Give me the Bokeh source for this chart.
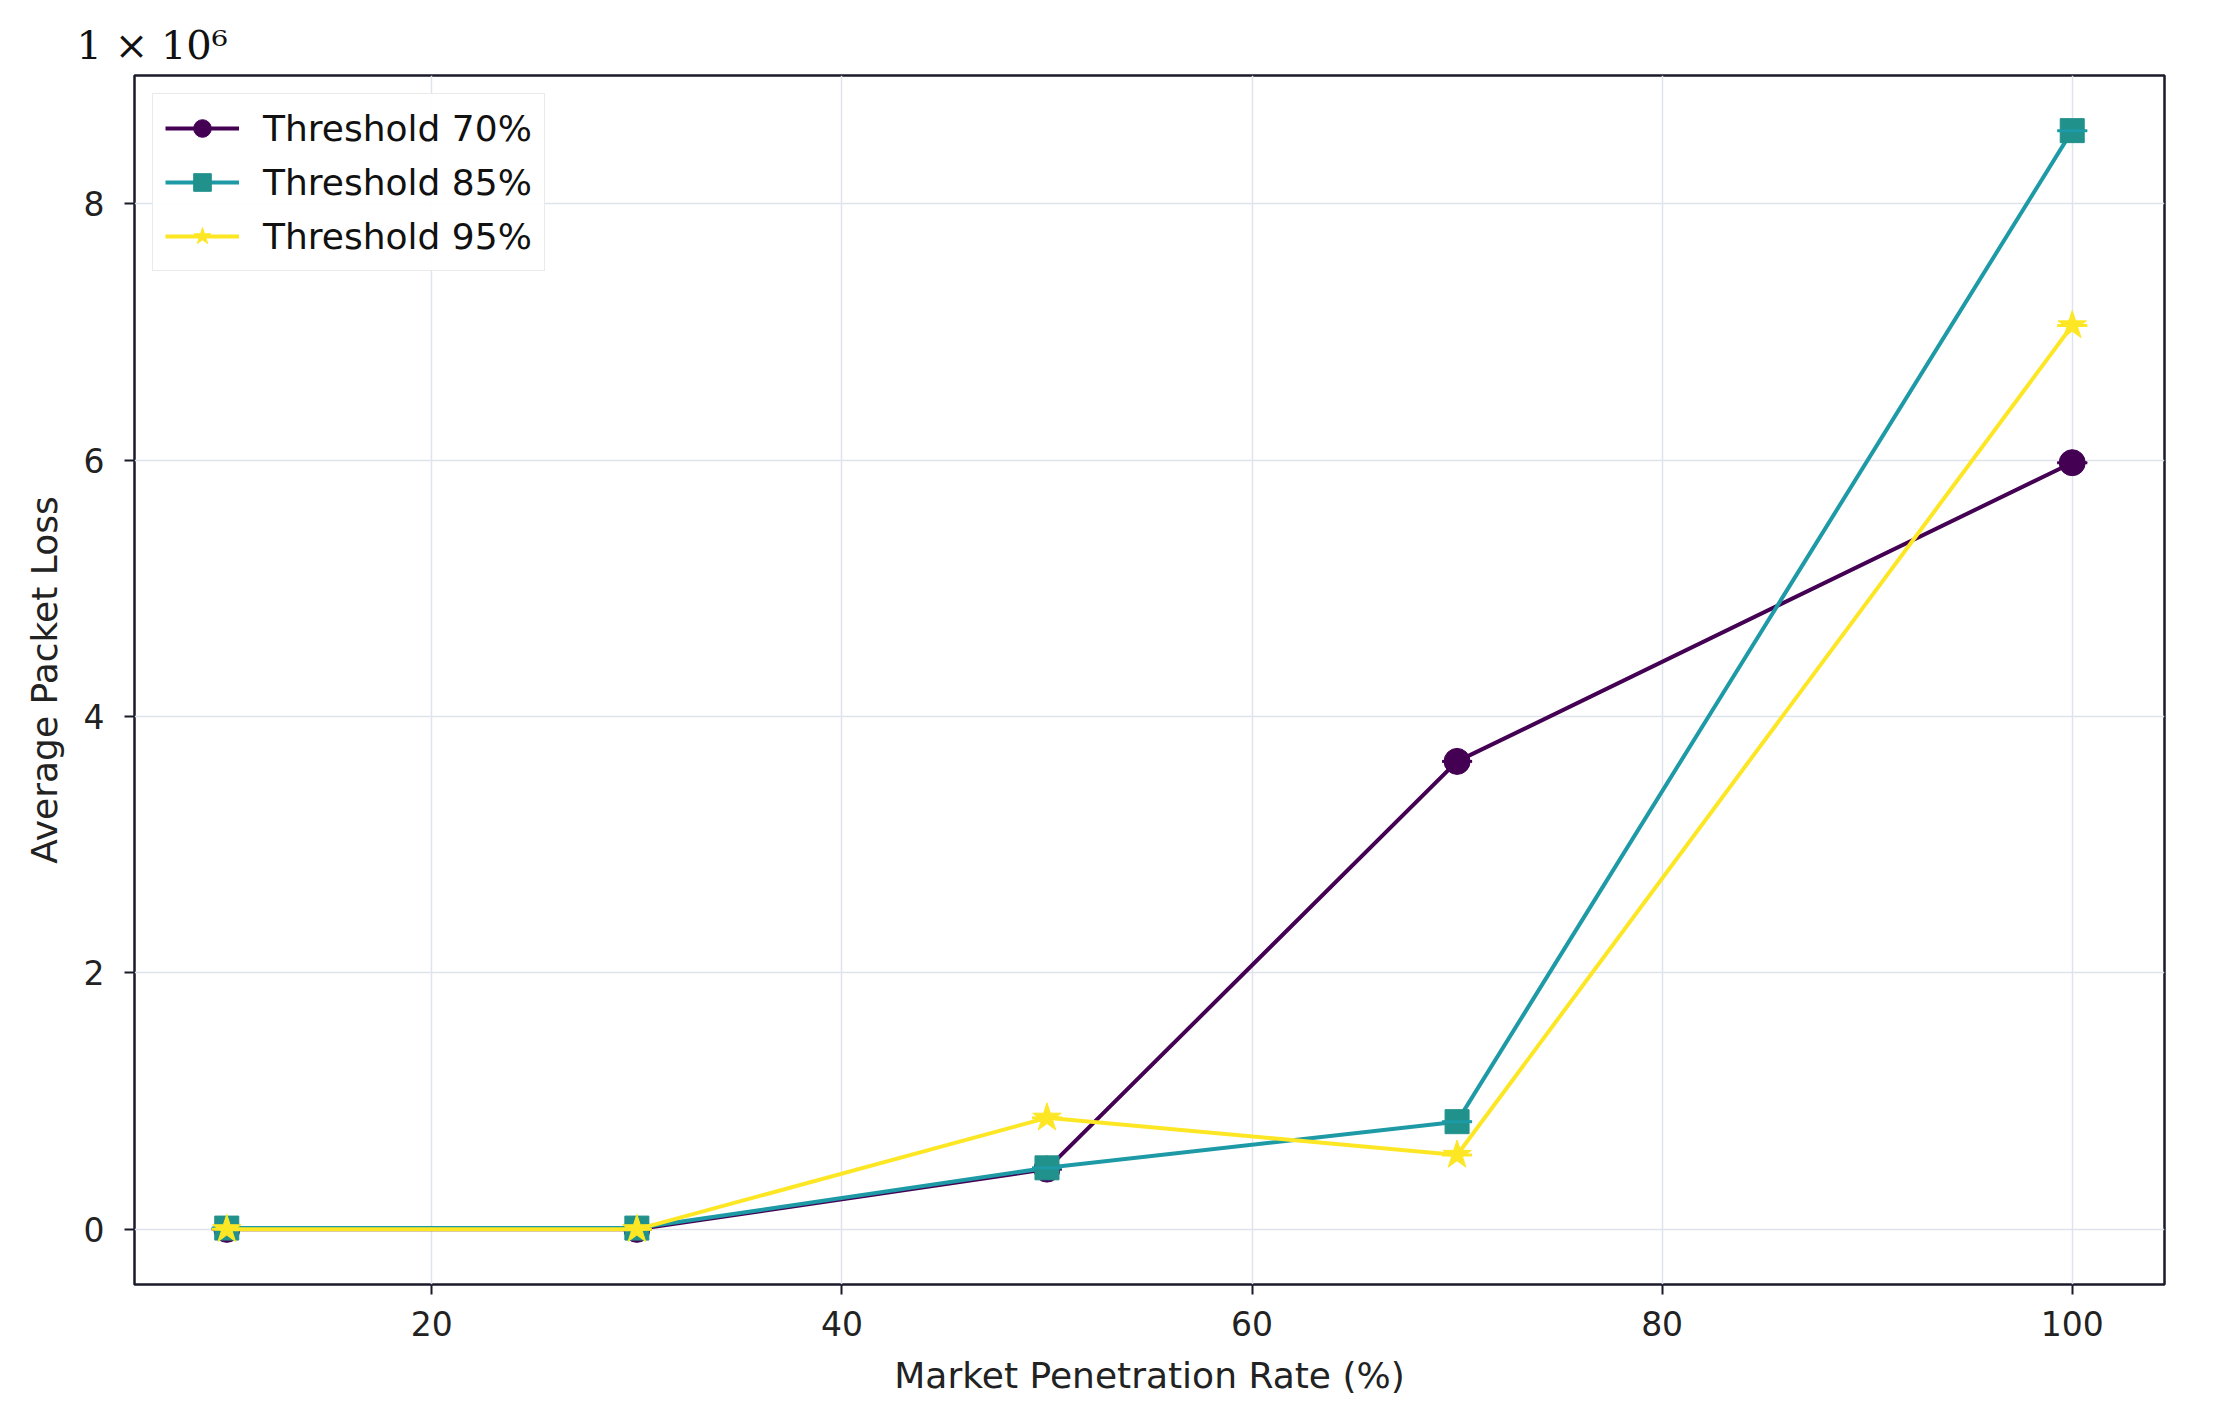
from bokeh.plotting import figure
from bokeh.models import Range1d, FixedTicker, CustomJSTickFormatter, Legend, LegendItem, Whisker, ColumnDataSource
from bokeh.embed import file_html
from bokeh.resources import INLINE

rates = [10, 30, 50, 70, 100]
loss_70 = [0.0, 0.0, 0.47e6, 3.65e6, 5.98e6]
loss_85 = [0.01e6, 0.01e6, 0.48e6, 0.84e6, 8.57e6]
loss_95 = [0.0, 0.0, 0.87e6, 0.58e6, 7.05e6]
err_70 = [0, 0, 0, 0, 0]
err_85 = [0, 0, 0, 0, 0]
err_95 = [0, 0, 0, 0, 0]
labels = ["Threshold 70%", "Threshold 85%", "Threshold 95%"]
x_ticks = [20, 40, 60, 80, 100]
y_ticks = [0, 2e6, 4e6, 6e6, 8e6]

FONT = "DejaVu Sans"

p = figure(output_backend="svg", toolbar_location=None,
           frame_width=2030, frame_height=1209,
           min_border_left=134, min_border_right=33, min_border_top=75, min_border_bottom=119,
           x_range=Range1d(5.5, 104.5), y_range=Range1d(-0.43e6, 9.0e6),
           title="1 × 10⁶")
p.background_fill_color = "white"
p.border_fill_color = "white"
p.outline_line_color = "#1a1a2a"
p.outline_line_width = 2.5

p.title.text_font = "DejaVu Serif"
p.title.text_font_style = "normal"
p.title.text_font_size = "40px"
p.title.align = "left"
p.title.offset = -58
p.title.standoff = 16
p.title.text_color = "#111111"

for ax in (p.xaxis[0], p.yaxis[0]):
    ax.axis_line_color = None
    ax.major_tick_line_color = "#1a1a2a"
    ax.major_tick_line_width = 2
    ax.major_tick_out = 10
    ax.major_tick_in = 0
    ax.minor_tick_line_color = None
    ax.major_label_text_font = FONT
    ax.major_label_text_font_size = "33px"
    ax.major_label_text_color = "#222222"
    ax.axis_label_text_font = FONT
    ax.axis_label_text_font_size = "36px"
    ax.axis_label_text_font_style = "normal"
    ax.axis_label_text_color = "#222222"

p.xaxis.ticker = FixedTicker(ticks=x_ticks)
p.yaxis.ticker = FixedTicker(ticks=y_ticks)
p.yaxis.formatter = CustomJSTickFormatter(code="return (tick/1e6).toFixed(0);")
p.xaxis.axis_label = "Market Penetration Rate (%)"
p.yaxis.axis_label = "Average Packet Loss"
p.xaxis.major_label_standoff = 16
p.yaxis.major_label_standoff = 20
p.xaxis.axis_label_standoff = 16
p.yaxis.axis_label_standoff = 16

p.xgrid.ticker = FixedTicker(ticks=x_ticks)
p.ygrid.ticker = FixedTicker(ticks=y_ticks)
p.grid.grid_line_color = "#dfe4ec"
p.grid.grid_line_width = 1.5

series = [
    (loss_70, err_70, "#440154", "#440154", "circle", 26),
    (loss_85, err_85, "#1d9aa6", "#21918c", "square", 24),
    (loss_95, err_95, "#fde725", "#fde725", "star", 30),
]

items = []
for (ys, es, lc, mc, marker, size), lab in zip(series, labels):
    src = ColumnDataSource(dict(x=rates, y=ys,
                                up=[a + b for a, b in zip(ys, es)],
                                lo=[a - b for a, b in zip(ys, es)]))
    r_line = p.line("x", "y", source=src, line_color=lc, line_width=4)
    r_pt = p.scatter("x", "y", source=src, marker=marker, size=size,
                     fill_color=mc, line_color=mc)
    r_cap = p.scatter("x", "y", source=src, marker="dash", size=30,
                      line_color=lc, line_width=3)
    w = Whisker(source=src, base="x", upper="up", lower="lo", line_color=lc, line_width=2.5)
    w.upper_head.line_color = lc
    w.lower_head.line_color = lc
    w.upper_head.size = 30
    w.lower_head.size = 30
    p.add_layout(w)
    items.append(LegendItem(label=lab, renderers=[r_line, r_pt]))

legend = Legend(items=items, location="top_left")
legend.label_text_font = FONT
legend.label_text_font_size = "36px"
legend.label_text_color = "#111111"
legend.glyph_width = 74
legend.glyph_height = 44
legend.label_standoff = 24
legend.spacing = 10
legend.padding = 12
legend.margin = 18
legend.border_line_color = "#d6d6d6"
legend.border_line_width = 1.5
legend.background_fill_alpha = 0.9
p.add_layout(legend)

open("out.html", "w").write(file_html(p, INLINE))
